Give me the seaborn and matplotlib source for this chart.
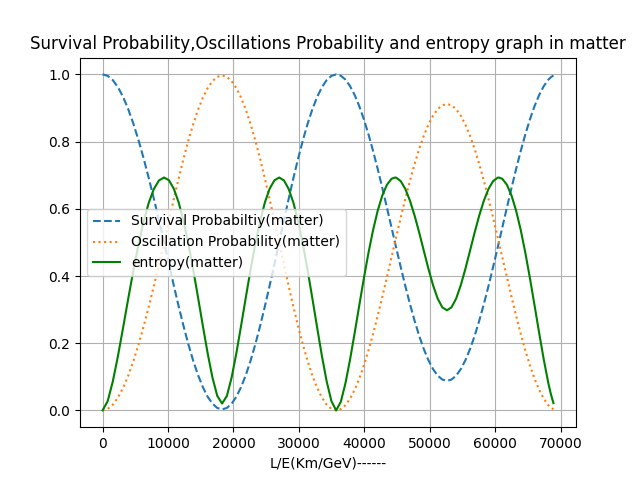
import matplotlib
matplotlib.use("Agg")
import matplotlib.pyplot as plt
import seaborn as sns

# L/E sample positions (Km/GeV)
le_values = [
    0, 783, 1567, 2350, 3133, 3917, 4700, 5483, 6267, 7050, 7833, 8617,
    9400, 10139, 10878, 11617, 12357, 13096, 13835, 14574, 15313, 16053,
    16792, 17531, 18270, 18998, 19725, 20453, 21180, 21908, 22635, 23363,
    24090, 24818, 25545, 26273, 27000, 27725, 28450, 29175, 29900, 30625,
    31350, 32075, 32800, 33525, 34250, 34975, 35700,
    36405, 37110, 37815, 38520, 39225, 39930, 40635, 41340, 42045, 42750,
    43455, 44160, 44681, 44865, 45570, 46275, 46980, 47685, 48390, 49095,
    49800, 50505, 51210, 51915, 52620, 53325, 54030, 54735, 55440, 56145,
    56850, 57555, 58260, 58965, 59670, 60375, 60560, 61080, 61785, 62490,
    63195, 63900, 64605, 65310, 66015, 66720, 67425, 68130, 68500, 68900]

survival = [
    1.0, 0.9957, 0.983, 0.9621, 0.9332, 0.897, 0.854, 0.805, 0.7508, 0.6923,
    0.6305, 0.5666, 0.5015, 0.4364, 0.3725, 0.3107, 0.2523, 0.198, 0.149,
    0.106, 0.0698, 0.0409, 0.02, 0.0073, 0.003, 0.0073, 0.02, 0.0409, 0.0698,
    0.106, 0.149, 0.198, 0.2523, 0.3107, 0.3725, 0.4364, 0.5015, 0.5666,
    0.6305, 0.6923, 0.7508, 0.805, 0.854, 0.897, 0.9332, 0.9621, 0.983,
    0.9957, 1.0,
    0.9961, 0.9845, 0.9653, 0.9389, 0.9058, 0.8664, 0.8216, 0.772, 0.7185,
    0.662, 0.6035, 0.544, 0.5, 0.4845, 0.426, 0.3695, 0.316, 0.2664, 0.2216,
    0.1822, 0.1491, 0.1227, 0.1035, 0.0919, 0.088, 0.0919, 0.1035, 0.1227,
    0.1491, 0.1822, 0.2216, 0.2664, 0.316, 0.3695, 0.426, 0.4845, 0.5, 0.544,
    0.6035, 0.662, 0.7185, 0.772, 0.8216, 0.8664, 0.9058, 0.9389, 0.9653,
    0.9845, 0.9915, 0.9968]

oscillation = [
    0.0, 0.0043, 0.017, 0.0379, 0.0668, 0.103, 0.146, 0.195, 0.2492, 0.3077,
    0.3695, 0.4334, 0.4985, 0.5636, 0.6275, 0.6893, 0.7477, 0.802, 0.851,
    0.894, 0.9302, 0.9591, 0.98, 0.9927, 0.997, 0.9927, 0.98, 0.9591, 0.9302,
    0.894, 0.851, 0.802, 0.7477, 0.6893, 0.6275, 0.5636, 0.4985, 0.4334,
    0.3695, 0.3077, 0.2492, 0.195, 0.146, 0.103, 0.0668, 0.0379, 0.017,
    0.0043, 0.0,
    0.0039, 0.0155, 0.0347, 0.0611, 0.0942, 0.1336, 0.1784, 0.228, 0.2815,
    0.338, 0.3965, 0.456, 0.5, 0.5155, 0.574, 0.6305, 0.684, 0.7336, 0.7784,
    0.8178, 0.8509, 0.8773, 0.8965, 0.9081, 0.912, 0.9081, 0.8965, 0.8773,
    0.8509, 0.8178, 0.7784, 0.7336, 0.684, 0.6305, 0.574, 0.5155, 0.5, 0.456,
    0.3965, 0.338, 0.2815, 0.228, 0.1784, 0.1336, 0.0942, 0.0611, 0.0347,
    0.0155, 0.0085, 0.0032]

entropy = [
    0.0, 0.0275, 0.0861, 0.1614, 0.2453, 0.3317, 0.4157, 0.4934, 0.5615,
    0.6173, 0.6587, 0.6843, 0.6931, 0.685, 0.6603, 0.6197, 0.5648, 0.4977,
    0.421, 0.3381, 0.2531, 0.1709, 0.098, 0.043, 0.0204, 0.043, 0.098, 0.1709,
    0.2531, 0.3381, 0.421, 0.4977, 0.5648, 0.6197, 0.6603, 0.685, 0.6931,
    0.6843, 0.6587, 0.6173, 0.5615, 0.4934, 0.4157, 0.3317, 0.2453, 0.1614,
    0.0861, 0.0275, 0.0,
    0.0255, 0.0801, 0.1508, 0.23, 0.3122, 0.3931, 0.469, 0.5369, 0.5944,
    0.6397, 0.6716, 0.6893, 0.6931, 0.6927, 0.6822, 0.6587, 0.6238, 0.5797,
    0.5289, 0.4748, 0.4211, 0.3723, 0.3328, 0.3069, 0.2979, 0.3069, 0.3328,
    0.3723, 0.4211, 0.4748, 0.5289, 0.5797, 0.6238, 0.6587, 0.6822, 0.6927,
    0.6931, 0.6893, 0.6716, 0.6397, 0.5944, 0.5369, 0.469, 0.3931, 0.3122,
    0.23, 0.1508, 0.0801, 0.0489, 0.0216]

fig, ax = plt.subplots(figsize=(6.4, 4.8), dpi=100)

sns.lineplot(x=le_values, y=survival, ax=ax, color="C0", linestyle="--",
             label="Survival Probabiltiy(matter)")
sns.lineplot(x=le_values, y=oscillation, ax=ax, color="C1", linestyle=":",
             label="Oscillation Probability(matter)")
sns.lineplot(x=le_values, y=entropy, ax=ax, color="green", linestyle="-",
             label="entropy(matter)")

ax.set_title("Survival Probability,Oscillations Probability and entropy graph in matter")
ax.set_xlabel("L/E(Km/GeV)------")
ax.grid(True)
ax.legend(loc="center left")

plt.savefig("out.png", dpi=100)
